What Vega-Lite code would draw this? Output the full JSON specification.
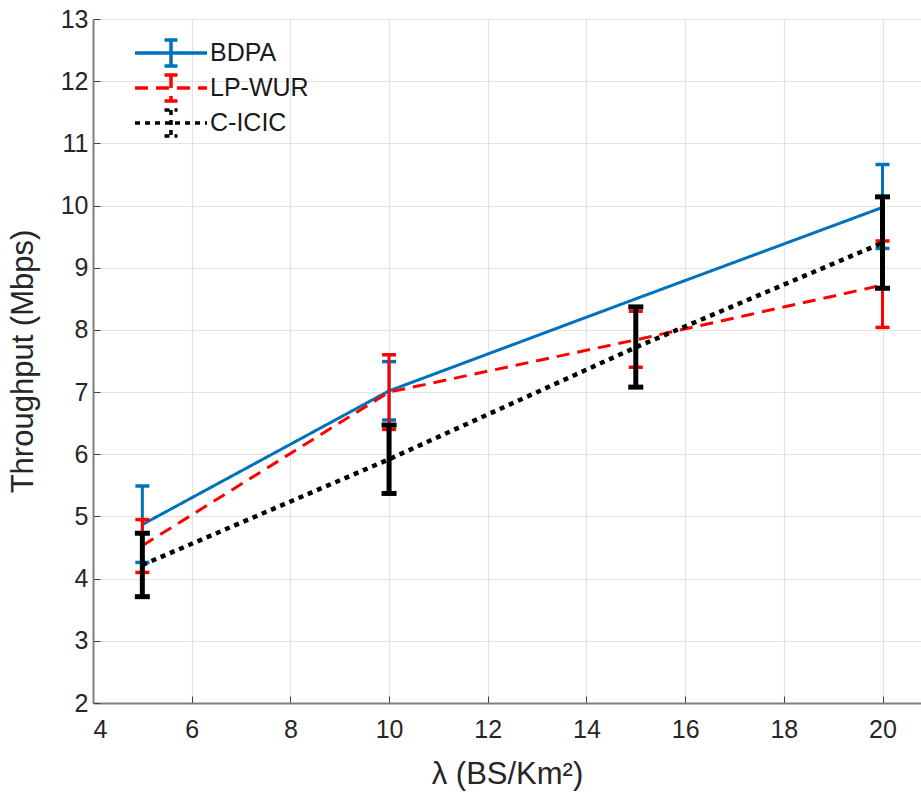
{
  "$schema": "https://vega.github.io/schema/vega-lite/v6.json",
  "width": 828,
  "height": 684,
  "autosize": {"type": "none"},
  "padding": {"left": 93, "top": 19, "right": 0, "bottom": 97},
  "background": "white",
  "config": {
    "font": "Liberation Sans",
    "view": {"stroke": null},
    "axis": {
      "labelFont": "Liberation Sans",
      "labelFontSize": 25,
      "labelColor": "#262626",
      "titleFont": "Liberation Sans",
      "titleFontSize": 31,
      "titleFontWeight": "normal",
      "titleColor": "#262626",
      "domainColor": "#808080",
      "domainWidth": 2,
      "tickColor": "#404040",
      "tickSize": -7,
      "tickWidth": 1,
      "gridColor": "#e3e3e3",
      "gridWidth": 1.2
    },
    "axisX": {"tickCount": 9, "labelPadding": 21, "titlePadding": 17},
    "axisY": {"tickCount": 11, "labelPadding": 12, "titlePadding": 21},
    "legend": {
      "labelFont": "Liberation Sans",
      "labelFontSize": 25,
      "labelColor": "#1a1a1a"
    }
  },
  "data": {
    "values": [
      {"series": "BDPA", "x": 5, "y": 4.87, "lo": 4.26, "hi": 5.49},
      {"series": "BDPA", "x": 10, "y": 7.02, "lo": 6.55, "hi": 7.49},
      {"series": "BDPA", "x": 15, "y": 8.5, "lo": null, "hi": null},
      {"series": "BDPA", "x": 20, "y": 9.97, "lo": 9.31, "hi": 10.66},
      {"series": "LP-WUR", "x": 5, "y": 4.53, "lo": 4.1, "hi": 4.95},
      {"series": "LP-WUR", "x": 10, "y": 7.0, "lo": 6.4, "hi": 7.6},
      {"series": "LP-WUR", "x": 15, "y": 7.84, "lo": 7.4, "hi": 8.3},
      {"series": "LP-WUR", "x": 20, "y": 8.72, "lo": 8.04, "hi": 9.43},
      {"series": "C-ICIC", "x": 5, "y": 4.22, "lo": 3.71, "hi": 4.73},
      {"series": "C-ICIC", "x": 10, "y": 5.92, "lo": 5.37, "hi": 6.47},
      {"series": "C-ICIC", "x": 15, "y": 7.72, "lo": 7.08, "hi": 8.37},
      {"series": "C-ICIC", "x": 20, "y": 9.4, "lo": 8.67, "hi": 10.14}
    ]
  },
  "encoding": {
    "x": {
      "field": "x",
      "type": "quantitative",
      "title": "λ (BS/Km²)",
      "scale": {"domain": [4, 20.78], "nice": false, "zero": false}
    }
  },
  "layer": [
    {
      "transform": [{"filter": "datum.series === 'BDPA'"}],
      "mark": {"type": "line", "strokeWidth": 3},
      "encoding": {
        "y": {"field": "y", "type": "quantitative", "title": "Throughput (Mbps)", "scale": {"domain": [2, 13], "nice": false, "zero": false}},
        "color": {"field": "series", "type": "nominal", "title": null,
          "scale": {"domain": ["BDPA", "LP-WUR", "C-ICIC"], "range": ["#0072BD", "#FF0000", "#000000"]},
          "legend": {
            "orient": "none", "legendX": 64, "legendY": 20, "padding": 0,
            "symbolType": "M-3,0H3M0,-1.08V1.08M-0.54,-1.08H0.54M-0.54,1.08H0.54",
            "symbolSize": 576, "symbolStrokeWidth": 3.5, "symbolFillColor": "transparent",
            "labelOffset": 25, "rowPadding": -5
          }},
        "strokeDash": {"field": "series", "type": "nominal", "title": null,
          "scale": {"domain": ["BDPA", "LP-WUR", "C-ICIC"], "range": [[1, 0], [13, 8], [5, 5]]}}
      }
    },
    {
      "transform": [{"filter": "datum.series === 'BDPA'"}],
      "mark": {"type": "rule", "strokeWidth": 3, "color": "#0072BD"},
      "encoding": {
        "y": {"field": "lo", "type": "quantitative", "title": "Throughput (Mbps)"},
        "y2": {"field": "hi"}
      }
    },
    {
      "transform": [{"filter": "datum.series === 'BDPA'"}],
      "mark": {"type": "tick", "orient": "horizontal", "size": 14, "thickness": 3.5, "color": "#0072BD", "opacity": 1},
      "encoding": {"y": {"field": "lo", "type": "quantitative", "title": "Throughput (Mbps)"}}
    },
    {
      "transform": [{"filter": "datum.series === 'BDPA'"}],
      "mark": {"type": "tick", "orient": "horizontal", "size": 14, "thickness": 3.5, "color": "#0072BD", "opacity": 1},
      "encoding": {"y": {"field": "hi", "type": "quantitative", "title": "Throughput (Mbps)"}}
    },
    {
      "transform": [{"filter": "datum.series === 'LP-WUR'"}],
      "mark": {"type": "line", "strokeWidth": 3},
      "encoding": {
        "y": {"field": "y", "type": "quantitative", "title": "Throughput (Mbps)"},
        "color": {"field": "series", "type": "nominal", "title": null},
        "strokeDash": {"field": "series", "type": "nominal", "title": null}
      }
    },
    {
      "transform": [{"filter": "datum.series === 'LP-WUR'"}],
      "mark": {"type": "rule", "strokeWidth": 3, "color": "#FF0000"},
      "encoding": {
        "y": {"field": "lo", "type": "quantitative", "title": "Throughput (Mbps)"},
        "y2": {"field": "hi"}
      }
    },
    {
      "transform": [{"filter": "datum.series === 'LP-WUR'"}],
      "mark": {"type": "tick", "orient": "horizontal", "size": 14, "thickness": 3.5, "color": "#FF0000", "opacity": 1},
      "encoding": {"y": {"field": "lo", "type": "quantitative", "title": "Throughput (Mbps)"}}
    },
    {
      "transform": [{"filter": "datum.series === 'LP-WUR'"}],
      "mark": {"type": "tick", "orient": "horizontal", "size": 14, "thickness": 3.5, "color": "#FF0000", "opacity": 1},
      "encoding": {"y": {"field": "hi", "type": "quantitative", "title": "Throughput (Mbps)"}}
    },
    {
      "transform": [{"filter": "datum.series === 'C-ICIC'"}],
      "mark": {"type": "line", "strokeWidth": 4.5},
      "encoding": {
        "y": {"field": "y", "type": "quantitative", "title": "Throughput (Mbps)"},
        "color": {"field": "series", "type": "nominal", "title": null},
        "strokeDash": {"field": "series", "type": "nominal", "title": null}
      }
    },
    {
      "transform": [{"filter": "datum.series === 'C-ICIC'"}],
      "mark": {"type": "rule", "strokeWidth": 5, "color": "#000000"},
      "encoding": {
        "y": {"field": "lo", "type": "quantitative", "title": "Throughput (Mbps)"},
        "y2": {"field": "hi"}
      }
    },
    {
      "transform": [{"filter": "datum.series === 'C-ICIC'"}],
      "mark": {"type": "tick", "orient": "horizontal", "size": 15, "thickness": 5, "color": "#000000", "opacity": 1},
      "encoding": {"y": {"field": "lo", "type": "quantitative", "title": "Throughput (Mbps)"}}
    },
    {
      "transform": [{"filter": "datum.series === 'C-ICIC'"}],
      "mark": {"type": "tick", "orient": "horizontal", "size": 15, "thickness": 5, "color": "#000000", "opacity": 1},
      "encoding": {"y": {"field": "hi", "type": "quantitative", "title": "Throughput (Mbps)"}}
    }
  ]
}
